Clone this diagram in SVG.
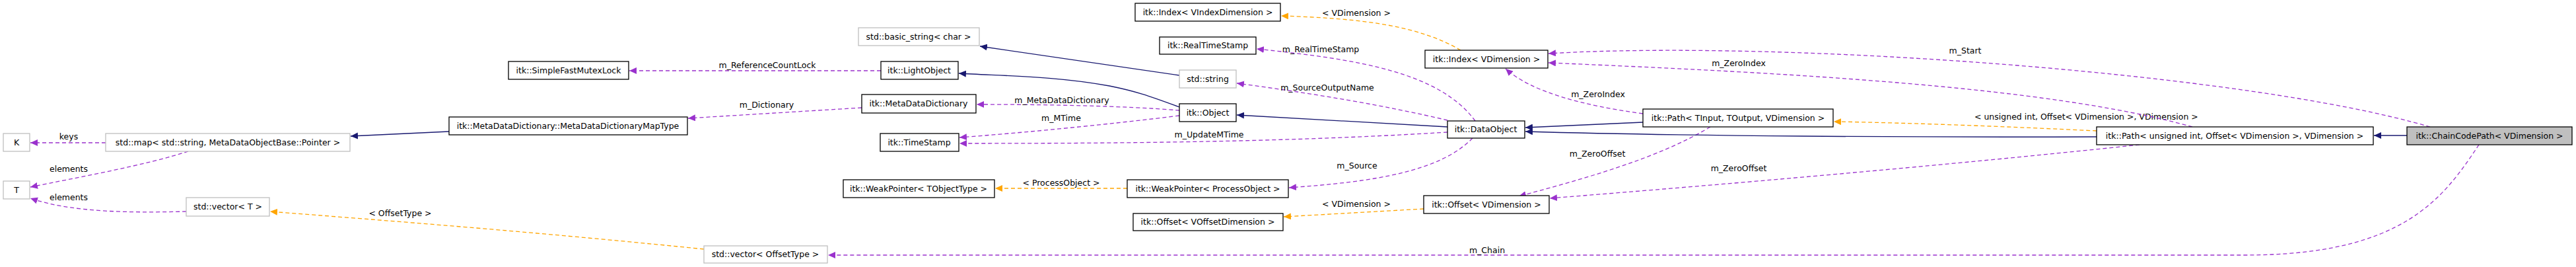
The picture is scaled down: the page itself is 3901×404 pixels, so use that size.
<svg xmlns="http://www.w3.org/2000/svg" width="3901" height="404" viewBox="0 0 3901 404">
<style>
.n rect{fill:#fff;stroke:#000;stroke-width:1.3}
.g rect{fill:#fff;stroke:#bfbfbf;stroke-width:1.3}
.sel rect{fill:#bfbfbf;stroke:#000;stroke-width:1.3}
text{font-family:"DejaVu Sans",sans-serif;font-size:12.5px;fill:#000}
.c text{text-anchor:middle}
.nt{text-anchor:middle}
.p{fill:none;stroke:#9a32cd;stroke-width:1.3;stroke-dasharray:6,4;marker-end:url(#ap)}
.o{fill:none;stroke:#ffa500;stroke-width:1.3;stroke-dasharray:6,4;marker-end:url(#ao)}
.s{fill:none;stroke:#191970;stroke-width:1.3;marker-end:url(#as)}
</style>
<defs>
<marker id="ap" markerUnits="userSpaceOnUse" markerWidth="12" markerHeight="10" refX="11" refY="5" orient="auto"><path d="M0,0L11,5L0,10z" fill="#9a32cd"/></marker>
<marker id="ao" markerUnits="userSpaceOnUse" markerWidth="12" markerHeight="10" refX="11" refY="5" orient="auto"><path d="M0,0L11,5L0,10z" fill="#ffa500"/></marker>
<marker id="as" markerUnits="userSpaceOnUse" markerWidth="12" markerHeight="10" refX="11" refY="5" orient="auto"><path d="M0,0L11,5L0,10z" fill="#191970"/></marker>
</defs>
<rect width="3901" height="404" fill="#fff"/>
<g id="edges" class="c">
<path class="p" d="M160,216L46,216"/><text x="104" y="211">keys</text>
<path class="p" d="M285,229C220,250 120,268 46,283"/><text x="104" y="260">elements</text>
<path class="p" d="M282,320C200,322 110,322 46,300"/><text x="104" y="303">elements</text>
<path class="s" d="M680,199L531,206"/>
<path class="p" d="M1305,163L1042,179"/><text x="1161" y="163">m_Dictionary</text>
<path class="p" d="M1334,107L953,107"/><text x="1162" y="103">m_ReferenceCountLock</text>
<path class="s" d="M1786,162C1740,145 1720,138 1680,130C1600,115 1520,115 1452,111"/>
<path class="s" d="M1786,114L1484,70"/>
<path class="p" d="M1786,167C1700,160 1580,158 1479,158"/><text x="1608" y="156">m_MetaDataDictionary</text>
<path class="p" d="M1786,175C1680,188 1560,200 1453,208"/><text x="1607" y="183">m_MTime</text>
<path class="p" d="M2192,200C1950,215 1700,217 1453,217"/><text x="1831" y="208">m_UpdateMTime</text>
<path class="s" d="M2192,192L1873,174"/>
<path class="p" d="M2192,182C2100,160 1980,140 1873,126"/><text x="2010" y="137">m_SourceOutputName</text>
<path class="p" d="M2234,183C2180,110 2060,90 1903,74"/><text x="2000" y="79">m_RealTimeStamp</text>
<path class="p" d="M2230,209C2180,260 2080,275 1952,284"/><text x="2055" y="255">m_Source</text>
<path class="o" d="M1707,285L1507,285"/><text x="1607" y="281">&lt; ProcessObject &gt;</text>
<path class="o" d="M2212,76C2150,40 2070,28 1940,24"/><text x="2054" y="24">&lt; VDimension &gt;</text>
<path class="o" d="M2156,316L1944,328"/><text x="2054" y="313">&lt; VDimension &gt;</text>
<path class="s" d="M2488,185L2310,193"/>
<path class="p" d="M2488,172C2400,160 2320,140 2280,104"/><text x="2420" y="147">m_ZeroIndex</text>
<path class="p" d="M2590,192C2510,240 2400,270 2300,297"/><text x="2419" y="237">m_ZeroOffset</text>
<path class="o" d="M3175,198C3050,192 2900,186 2777,184"/><text x="2990" y="181" style="text-anchor:start" x1="0">&lt; unsigned int, Offset&lt; VDimension &gt;, VDimension &gt;</text>
<path class="s" d="M3175,207C2900,208 2550,206 2310,199"/>
<path class="p" d="M3320,192C3100,130 2700,110 2345,95"/><text x="2633" y="100">m_ZeroIndex</text>
<path class="p" d="M3240,219C2950,250 2600,280 2347,300"/><text x="2633" y="259">m_ZeroOffset</text>
<path class="s" d="M3645,205L3595,205"/>
<path class="p" d="M3680,192C3400,110 2700,60 2345,81"/><text x="2976" y="81">m_Start</text>
<path class="p" d="M3754,219C3700,300 3640,386 3400,386L1254,386"/><text x="2252" y="383">m_Chain</text>
<path class="o" d="M1066,377C800,350 600,335 409,320"/><text x="606" y="327">&lt; OffsetType &gt;</text>
</g>
<g id="K" class="g"><rect x="5" y="202" width="40" height="27"/><text class="nt" x="25" y="220">K</text></g>
<g id="T" class="g"><rect x="5" y="274" width="40" height="27"/><text class="nt" x="25" y="292">T</text></g>
<g id="stdmap" class="g"><rect x="160" y="202" width="370" height="27"/><text class="nt" x="345" y="220">std::map&lt; std::string, MetaDataObjectBase::Pointer &gt;</text></g>
<g id="vectorT" class="g"><rect x="282" y="299" width="126" height="28"/><text class="nt" x="345" y="317">std::vector&lt; T &gt;</text></g>
<g id="mutex" class="n"><rect x="770" y="93" width="182" height="27"/><text class="nt" x="861" y="111">itk::SimpleFastMutexLock</text></g>
<g id="maptype" class="n"><rect x="680" y="177" width="361" height="27"/><text class="nt" x="860" y="195">itk::MetaDataDictionary::MetaDataDictionaryMapType</text></g>
<g id="vectorOffset" class="g"><rect x="1066" y="372" width="187" height="26"/><text class="nt" x="1159" y="389">std::vector&lt; OffsetType &gt;</text></g>
<g id="basicstring" class="g"><rect x="1300" y="42" width="183" height="27"/><text class="nt" x="1391" y="60">std::basic_string&lt; char &gt;</text></g>
<g id="lightobject" class="n"><rect x="1334" y="93" width="117" height="27"/><text class="nt" x="1392" y="111">itk::LightObject</text></g>
<g id="mdd" class="n"><rect x="1305" y="143" width="173" height="28"/><text class="nt" x="1391" y="161">itk::MetaDataDictionary</text></g>
<g id="timestamp" class="n"><rect x="1333" y="202" width="119" height="27"/><text class="nt" x="1392" y="220">itk::TimeStamp</text></g>
<g id="wpT" class="n"><rect x="1277" y="272" width="229" height="27"/><text class="nt" x="1391" y="290">itk::WeakPointer&lt; TObjectType &gt;</text></g>
<g id="indexV" class="n"><rect x="1719" y="5" width="220" height="27"/><text class="nt" x="1829" y="23">itk::Index&lt; VIndexDimension &gt;</text></g>
<g id="realtime" class="n"><rect x="1756" y="56" width="146" height="26"/><text class="nt" x="1829" y="73">itk::RealTimeStamp</text></g>
<g id="stdstring" class="g"><rect x="1786" y="106" width="86" height="27"/><text class="nt" x="1829" y="124">std::string</text></g>
<g id="object" class="n"><rect x="1786" y="157" width="86" height="27"/><text class="nt" x="1829" y="175">itk::Object</text></g>
<g id="wpP" class="n"><rect x="1707" y="272" width="244" height="27"/><text class="nt" x="1829" y="290">itk::WeakPointer&lt; ProcessObject &gt;</text></g>
<g id="offsetV" class="n"><rect x="1716" y="323" width="227" height="26"/><text class="nt" x="1829" y="340">itk::Offset&lt; VOffsetDimension &gt;</text></g>
<g id="index" class="n"><rect x="2158" y="76" width="186" height="27"/><text class="nt" x="2251" y="94">itk::Index&lt; VDimension &gt;</text></g>
<g id="dataobject" class="n"><rect x="2192" y="183" width="117" height="26"/><text class="nt" x="2250" y="200">itk::DataObject</text></g>
<g id="offset" class="n"><rect x="2156" y="296" width="190" height="27"/><text class="nt" x="2251" y="314">itk::Offset&lt; VDimension &gt;</text></g>
<g id="pathT" class="n"><rect x="2488" y="165" width="288" height="27"/><text class="nt" x="2632" y="183">itk::Path&lt; TInput, TOutput, VDimension &gt;</text></g>
<g id="pathU" class="n"><rect x="3175" y="192" width="419" height="27"/><text class="nt" x="3384" y="210">itk::Path&lt; unsigned int, Offset&lt; VDimension &gt;, VDimension &gt;</text></g>
<g id="chaincode" class="sel"><rect x="3645" y="192" width="250" height="27"/><text class="nt" x="3770" y="210">itk::ChainCodePath&lt; VDimension &gt;</text></g>
</svg>
